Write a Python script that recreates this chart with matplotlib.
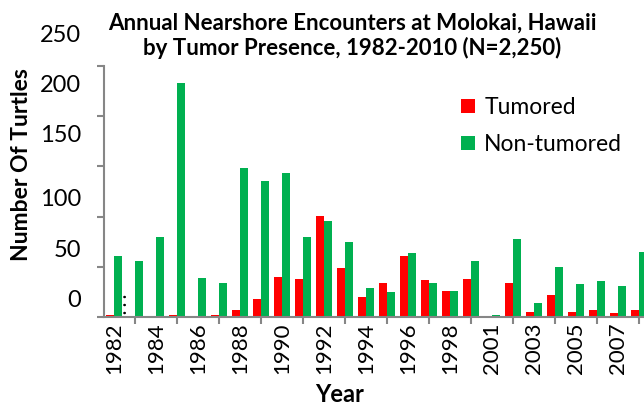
import matplotlib
matplotlib.use('Agg')
import matplotlib.pyplot as plt
import numpy as np

plt.rcParams['font.family'] = ['Lato', 'DejaVu Sans']

# Data (2000 has no column; chart is cut off after 2008)
years = ['1982', '1983', '1984', '1985', '1986', '1987', '1988', '1989', '1990',
         '1991', '1992', '1993', '1994', '1995', '1996', '1997', '1998', '1999',
         '2001', '2002', '2003', '2004', '2005', '2006', '2007', '2008']
tumored = [2, 0, 0, 2, 0, 2, 7, 18, 40, 38, 101, 49, 20, 34, 61, 37, 26, 38,
           0, 34, 5, 22, 5, 7, 4, 7]
non_tumored = [61, 56, 80, 233, 39, 34, 148, 135, 143, 80, 96, 75, 29, 25, 64, 34, 26, 56,
               2, 78, 14, 50, 33, 36, 31, 65]
y_ticks = [0, 50, 100, 150, 200, 250]
# the y labels sit above their tick marks in the original (points)
y_label_shift = [12, 12, 12, 22, 22, 22]

red = '#FF0000'
green = '#00B050'
axis_gray = '#868686'

W, H = 644, 407
fig = plt.figure(figsize=(W / 100, H / 100), dpi=100)
ax = fig.add_axes([103.5 / W, (H - 317) / H, (W - 103.5) / W, 251 / H])

x = np.arange(len(years))
bw = 0.36
ax.bar(x - bw / 2, tumored, bw, color=red, label='Tumored')
ax.bar(x + bw / 2, non_tumored, bw, color=green, label='Non-tumored')

ax.set_xlim(-0.5, 25.24)
ax.set_ylim(0, 250)

for s in ['top', 'right']:
    ax.spines[s].set_visible(False)
for s in ['left', 'bottom']:
    ax.spines[s].set_color(axis_gray)
    ax.spines[s].set_linewidth(1.5)

# x: labels every other year, tick marks in between
ax.set_xticks(x[::2])
ax.set_xticklabels([years[i] for i in x[::2]], rotation=90, fontsize=16)
ax.tick_params(axis='x', which='major', length=0, pad=4)
ax.set_xticks(x[1::2], minor=True)
ax.tick_params(axis='x', which='minor', length=5, width=1.5, color=axis_gray)

# y: tick marks, labels drawn separately so they can be shifted
ax.set_yticks(y_ticks)
ax.set_yticklabels([])
ax.tick_params(axis='y', length=5, width=1.5, color=axis_gray)
for v, dy in zip(y_ticks, y_label_shift):
    ax.annotate(str(v), xy=(0, v), xycoords=('axes fraction', 'data'),
                xytext=(-16, dy), textcoords='offset points',
                ha='right', va='center', fontsize=17)

# truncated first label in the original
ax.annotate('. . .', xy=(0, 0), xycoords='data', xytext=(5.5, 2),
            textcoords='offset points', rotation=90, ha='center', va='bottom',
            fontsize=12, fontweight='bold')

fig.text(352 / W, 1 - 36 / H,
         'Annual Nearshore Encounters at Molokai, Hawaii\nby Tumor Presence, 1982-2010 (N=2,250)',
         ha='center', va='center', fontsize=16, fontweight='bold', linespacing=1.15)
fig.text(22 / W, 1 - 165 / H, 'Number Of Turtles', rotation=90, ha='center',
         va='center', fontsize=16.5, fontweight='bold')
fig.text(340 / W, 1 - 395 / H, 'Year', ha='center', va='center', fontsize=17,
         fontweight='bold')

ax.legend(loc='upper left', bbox_to_anchor=(461 / W, 1 - 97 / H),
          bbox_transform=fig.transFigure, frameon=False, fontsize=16.5,
          handlelength=0.62, handleheight=0.62, handletextpad=0.4,
          labelspacing=0.7, borderpad=0, borderaxespad=0)

fig.savefig('out.png', dpi=100)
